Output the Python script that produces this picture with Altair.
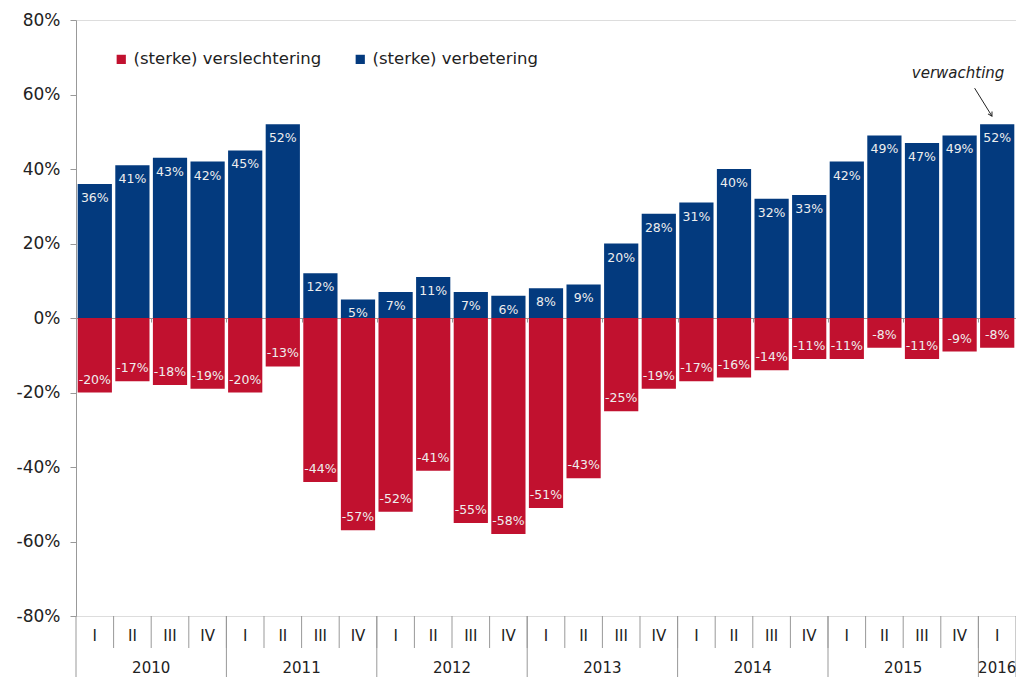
import altair as alt
import pandas as pd

# ---- data ----
quarters = ["I", "II", "III", "IV"] * 6 + ["I"]
years = ["2010", "2011", "2012", "2013", "2014", "2015", "2016"]
year_quarter_counts = [4, 4, 4, 4, 4, 4, 1]
verbetering = [36, 41, 43, 42, 45, 52, 12, 5, 7, 11, 7, 6, 8, 9, 20, 28, 31, 40, 32, 33, 42, 49, 47, 49, 52]
verslechtering = [-20, -17, -18, -19, -20, -13, -44, -57, -52, -41, -55, -58, -51, -43, -25, -19, -17, -16, -14, -11, -11, -8, -11, -9, -8]
series_names = ["(sterke) verslechtering", "(sterke) verbetering"]
series_colors = ["#C1112F", "#033A7E"]
y_ticks = [-80, -60, -40, -20, 0, 20, 40, 60, 80]
annotation_text = "verwachting"

FONT = "Verdana, DejaVu Sans"
W, H = 940, 596

rows = []
for i, (q, pos, neg) in enumerate(zip(quarters, verbetering, verslechtering)):
    rows.append({"idx": i, "value": neg, "series": series_names[0], "label": f"{neg}%"})
    rows.append({"idx": i, "value": pos, "series": series_names[1], "label": f"{pos}%"})
df = pd.DataFrame(rows)

qdf = pd.DataFrame({"idx": list(range(len(quarters))), "q": quarters})
ydf_rows = []
start = 0
for y, c in zip(years, year_quarter_counts):
    ydf_rows.append({"year": y, "start": start, "n": c})
    start += c
ydf = pd.DataFrame(ydf_rows)
n = len(quarters)
qbounds = pd.DataFrame({"b": [i for i in range(1, n)]})
ybounds = pd.DataFrame({"b": [r["start"] for r in ydf_rows] + [n]})

xscale = alt.Scale(domain=[0, n], nice=False, zero=False)
yscale = alt.Scale(domain=[-80, 80], nice=False)

bars = alt.Chart(df).transform_calculate(
    x0="datum.idx + 0.045", x1="datum.idx + 0.955"
).mark_bar().encode(
    x=alt.X("x0:Q", scale=xscale, axis=alt.Axis(
        values=list(range(0, n + 1)), labels=False, title=None, grid=False,
        offset=-H / 2, tickSize=4, domainColor="#999999", tickColor="#999999")),
    x2="x1:Q",
    y=alt.Y("value:Q", scale=yscale, axis=alt.Axis(
        values=y_ticks, labelExpr="datum.value + '%'", title=None, grid=False,
        tickSize=6, labelPadding=10, domainColor="#999999", tickColor="#999999",
        labelFontSize=17, labelColor="#222222", labelFont=FONT)),
    y2=alt.datum(0),
    color=alt.Color("series:N", scale=alt.Scale(domain=series_names, range=series_colors),
                    legend=alt.Legend(title=None, orient="none", legendX=37, legendY=31,
                                      direction="horizontal", symbolType="square",
                                      symbolSize=85, symbolStrokeWidth=0, labelLimit=0,
                                      labelFontSize=16.5, labelFont=FONT, labelColor="#222222",
                                      columnPadding=30, labelOffset=4)),
)

lab_pos = alt.Chart(df).transform_filter("datum.value >= 0").transform_calculate(
    xm="datum.idx + 0.5").mark_text(
    dy=14, fontSize=12.5, font=FONT, color="#EEEEEE").encode(
    x=alt.X("xm:Q", scale=xscale), y=alt.Y("value:Q", scale=yscale), text="label:N")
lab_neg = alt.Chart(df).transform_filter("datum.value < 0").transform_calculate(
    xm="datum.idx + 0.5").mark_text(
    dy=-13, fontSize=12.5, font=FONT, color="#EEEEEE").encode(
    x=alt.X("xm:Q", scale=xscale), y=alt.Y("value:Q", scale=yscale), text="label:N")

q_lines = alt.Chart(qbounds).mark_rule(color="#999999", strokeWidth=1).encode(
    x=alt.X("b:Q", scale=xscale), y=alt.value(H), y2=alt.value(H + 32))
y_lines = alt.Chart(ybounds).mark_rule(color="#999999", strokeWidth=1).encode(
    x=alt.X("b:Q", scale=xscale), y=alt.value(H), y2=alt.value(H + 62))

q_text = alt.Chart(qdf).transform_calculate(xm="datum.idx + 0.5").mark_text(
    fontSize=15, font=FONT, color="#222222", baseline="middle").encode(
    x=alt.X("xm:Q", scale=xscale), y=alt.value(H + 20), text="q:N")
y_text = alt.Chart(ydf).transform_calculate(xm="datum.start + datum.n / 2").mark_text(
    fontSize=15, font=FONT, color="#222222", baseline="middle").encode(
    x=alt.X("xm:Q", scale=xscale), y=alt.value(H + 52), text="year:N")

ann_df = pd.DataFrame({"x": [23.46], "y": [65.8], "t": [annotation_text]})
ann_text = alt.Chart(ann_df).mark_text(
    fontSize=15, font=FONT, fontStyle="italic", color="#222222").encode(
    x=alt.X("x:Q", scale=xscale), y=alt.Y("y:Q", scale=yscale), text="t:N")
arrow_df = pd.DataFrame({"x": [23.9], "y": [61.7], "x2": [24.36], "y2": [54.2]})
arrow_line = alt.Chart(arrow_df).mark_rule(color="#222222", strokeWidth=1).encode(
    x=alt.X("x:Q", scale=xscale), y=alt.Y("y:Q", scale=yscale), x2="x2:Q", y2="y2:Q")
arrow_head = alt.Chart(arrow_df).mark_point(
    shape="M-0.6,-1L0,0L0.6,-1", size=60, filled=False, color="#222222",
    strokeWidth=1, angle=330, opacity=1).encode(
    x=alt.X("x2:Q", scale=xscale), y=alt.Y("y2:Q", scale=yscale))

chart = alt.layer(
    bars, lab_pos, lab_neg, q_lines, y_lines, q_text, y_text, ann_text, arrow_line, arrow_head
).properties(
    width=W, height=H,
    autosize=alt.AutoSizeParams(type="none"),
    padding={"left": 68, "top": 12, "right": 0, "bottom": 61},
).configure_view(stroke=None).configure(font=FONT)

chart.save("out.html", embed_options={"renderer": "svg", "actions": False})
